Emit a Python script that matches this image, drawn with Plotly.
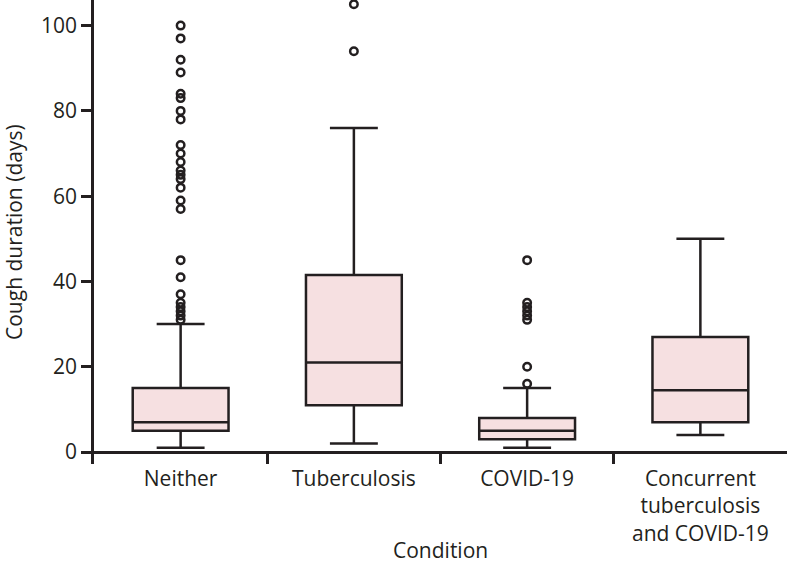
import plotly.graph_objects as go

categories = ["Neither", "Tuberculosis", "COVID-19", "Concurrent<br>tuberculosis<br>and COVID-19"]
q1 = [5, 11, 3, 7]
median = [7, 21, 5, 14.5]
q3 = [15, 41.5, 8, 27]
lower_whisker = [1, 2, 1, 4]
upper_whisker = [30, 76, 15, 50]

outliers_neither = [31, 32, 33, 34, 35, 37, 41, 45, 57, 59, 62, 64, 65, 66, 68, 70, 72,
                    78, 80, 83, 84, 89, 92, 97, 100]
outliers_tb = [94, 105]
outliers_covid = [16, 20, 31, 32, 33, 34, 35, 45]
outliers_concurrent = []

line_col = "#231F20"
fill_col = "#F6E0E1"
font_family = "'Open Sans', sans-serif"
fs = 21

fig = go.Figure()
fig.add_trace(go.Box(
    x=categories, q1=q1, median=median, q3=q3,
    lowerfence=lower_whisker, upperfence=upper_whisker,
    boxpoints=False, fillcolor=fill_col,
    line=dict(color=line_col, width=2.5), whiskerwidth=0.5,
    showlegend=False, hoverinfo="skip",
))

for cat, vals in zip(categories, [outliers_neither, outliers_tb, outliers_covid, outliers_concurrent]):
    if vals:
        fig.add_trace(go.Scatter(
            x=[cat] * len(vals), y=vals, mode="markers",
            marker=dict(symbol="circle-open", size=7.5, color=line_col,
                        line=dict(width=2.5, color=line_col)),
            showlegend=False,
        ))

fig.update_layout(
    width=789, height=563,
    margin=dict(l=94, r=2, t=0, b=99),
    plot_bgcolor="white", paper_bgcolor="white",
    font=dict(family=font_family, size=fs, color=line_col),
    boxgap=0.21,
    xaxis=dict(
        type="category", categoryorder="array", categoryarray=categories,
        showline=False, showgrid=False, zeroline=False, automargin=False,
        ticks="inside", tickson="boundaries", ticklen=12, tickwidth=2.5, tickcolor=line_col,
        title=None,
        range=[-0.5, 3.5],
    ),
    yaxis=dict(
        range=[-2.8, 106], automargin=False,
        showline=True, linecolor=line_col, linewidth=2.5,
        showgrid=False,
        zeroline=True, zerolinecolor=line_col, zerolinewidth=2.5,
        ticks="outside", ticklen=10, tickwidth=2.5, tickcolor=line_col,
        tickvals=[0, 20, 40, 60, 80, 100],
        title=None,
    ),
    annotations=[
        dict(text="Cough duration (days)", textangle=-90,
             xref="paper", yref="paper", x=0, y=0.5,
             xanchor="center", yanchor="middle", xshift=-80,
             showarrow=False, font=dict(size=fs)),
        dict(text="Condition",
             xref="paper", yref="paper", x=0.5, y=0, yshift=-86,
             xanchor="center", yanchor="middle",
             showarrow=False, font=dict(size=fs)),
    ],
)

fig.write_html("out.html", config={"displayModeBar": False},
               post_script="document.body.style.margin='0';")
